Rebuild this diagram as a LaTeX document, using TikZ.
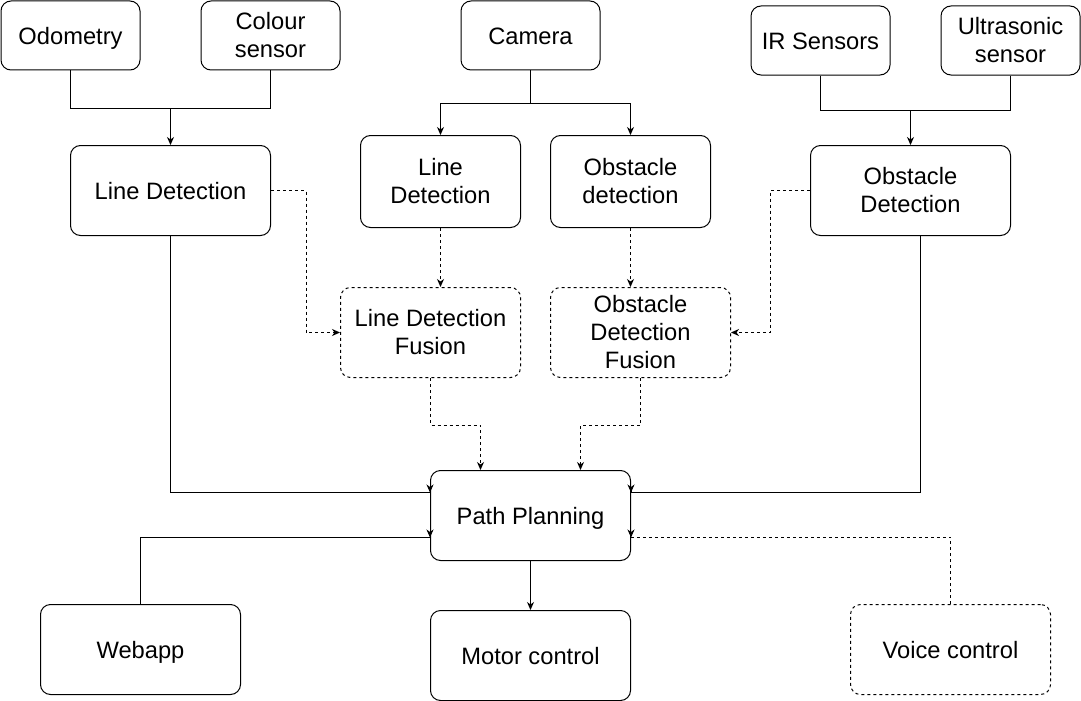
\documentclass[tikz,border=0pt]{standalone}
\usepackage{fontspec}
\setmainfont{Liberation Sans}
\usetikzlibrary{arrows.meta,calc}
\newcommand{\linestrut}{\rule[-4.7pt]{0pt}{26.7pt}}
\tikzset{
  box/.style={draw, line width=1pt, rounded corners=10pt, align=center, inner sep=0pt,
    font=\fontsize{23.7}{28}\selectfont},
  sl/.style={execute at begin node={\linestrut}, execute at end node={\linestrut}},
  smallbox/.style={box, minimum width=139pt, minimum height=69pt},
  medbox/.style={box, minimum width=160pt, minimum height=92pt},
  bigbox/.style={box, minimum width=200pt, minimum height=90pt},
  fusbox/.style={box, minimum width=180pt, minimum height=90pt},
  dsh/.style={dash pattern=on 3pt off 3pt},
  conn/.style={line width=1pt},
  arr/.style={conn, -{Stealth[length=8pt,width=7pt,inset=2.5pt]}},
}
\begin{document}
\begin{tikzpicture}[x=1pt,y=-1pt]
\useasboundingbox (0,0) rectangle (1081,701);
\node[smallbox,sl] (odo) at (70.5,35.5) {Odometry};
\node[smallbox] (col) at (270.5,35.5) {Colour\\sensor};
\node[smallbox,sl] (cam) at (530.5,35.5) {Camera};
\node[smallbox,sl] (ir) at (820.5,40.5) {IR Sensors};
\node[smallbox] (us) at (1010.5,40.5) {Ultrasonic\\sensor};
\node[bigbox,sl] (ldl) at (170.5,190.5) {Line Detection};
\node[medbox] (ldm) at (440.5,181.5) {Line\\Detection};
\node[medbox] (odm) at (630.5,181.5) {Obstacle\\detection};
\node[bigbox] (odr) at (910.5,190.5) {Obstacle\\Detection};
\node[fusbox,dsh] (ldf) at (430.5,332.5) {Line Detection\\Fusion};
\node[fusbox,dsh] (odf) at (640.5,332.5) {Obstacle\\Detection\\Fusion};
\node[bigbox,sl] (pp) at (530.5,515.5) {Path Planning};
\node[bigbox,sl] (web) at (140.5,649.5) {Webapp};
\node[bigbox,sl] (mc) at (530.5,655.5) {Motor control};
\node[bigbox,dsh,sl] (vc) at (950.5,649.5) {Voice control};

\coordinate (j1) at (170.5,108.5);
\coordinate (j2) at (530.5,103.5);
\coordinate (j3) at (910.5,110.5);
\draw[conn] (odo.south) |- (j1);
\draw[conn] (col.south) |- (j1);
\draw[arr] (j1) -- (ldl.north);
\draw[conn] (cam.south) -- (j2);
\draw[arr] (j2) -| (ldm.north);
\draw[arr] (j2) -| (odm.north);
\draw[conn] (ir.south) |- (j3);
\draw[conn] (us.south) |- (j3);
\draw[arr] (j3) -- (odr.north);

\draw[arr,dsh] (ldl.east) -- ++(35,0) |- (ldf.west);
\draw[arr,dsh] (ldm.south) -- (ldm.south |- ldf.north);
\draw[arr,dsh] (odm.south) -- (odm.south |- odf.north);
\draw[arr,dsh] (odr.west) -- ++(-40,0) |- (odf.east);
\draw[arr,dsh] (ldf.south) -- ++(0,47) -| ([xshift=-50pt]pp.north);
\draw[arr,dsh] (odf.south) -- ++(0,47) -| ([xshift=50pt]pp.north);

\draw[arr] (ldl.south) |- ([yshift=-22pt]pp.north west) -- ([yshift=-22.5pt]pp.north west);
\draw[arr] ([xshift=10pt]odr.south) |- ([yshift=-22pt]pp.north east) -- ([yshift=-22.5pt]pp.north east);
\draw[arr] (web.north) |- ([yshift=-67pt]pp.north west) -- ([yshift=-67.5pt]pp.north west);
\draw[arr,dsh] (vc.north) |- ([yshift=-67pt]pp.north east) -- ([yshift=-67.5pt]pp.north east);
\draw[arr] (pp.south) -- (mc.north);
\end{tikzpicture}
\end{document}
